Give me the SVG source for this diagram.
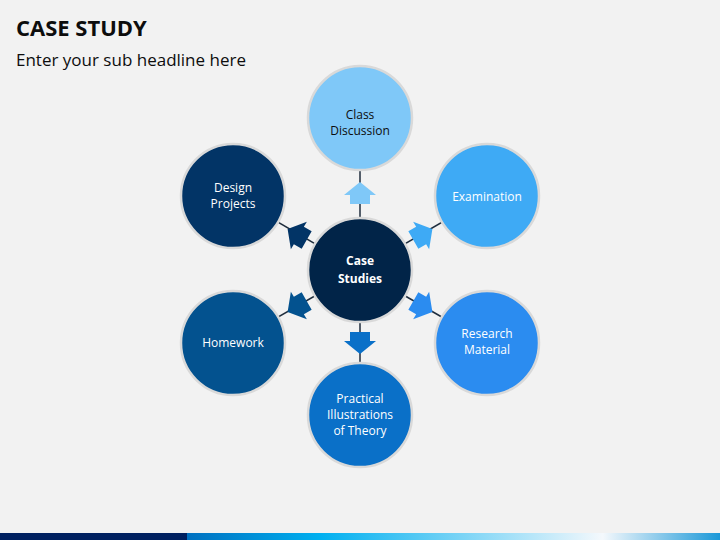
<svg xmlns="http://www.w3.org/2000/svg" width="720" height="540" viewBox="0 0 720 540">
<defs>
<linearGradient id="bar" x1="187" y1="0" x2="720" y2="0" gradientUnits="userSpaceOnUse">
<stop offset="0" stop-color="#0070c0"/><stop offset="0.25" stop-color="#00b0f0"/><stop offset="0.78" stop-color="#f4f8fc"/><stop offset="1" stop-color="#1a98d8"/>
</linearGradient>
<path id="arr" d="M0,-12 L16,1 L10,1 L10,10 L-10,10 L-10,1 L-16,1 Z"/>
</defs>
<style>
.c{stroke:#d9d9d9;stroke-width:2.5}
.t{font-family:"Open Sans","Liberation Sans",sans-serif;font-size:12px;fill:#fff;text-anchor:middle}
.d{fill:#0d0d0d}
.ln{stroke:#1f2d3d;stroke-width:1.5}
</style>
<rect width="720" height="540" fill="#f2f2f2"/>
<rect x="0" y="533" width="187" height="7" fill="#002060"/>
<rect x="187" y="533" width="533" height="7" fill="url(#bar)"/>
<text x="16" y="36" font-family="'Open Sans','Liberation Sans',sans-serif" font-size="22" font-weight="bold" fill="#0d0d0d">CASE STUDY</text>
<text x="16" y="66" font-family="'Open Sans','Liberation Sans',sans-serif" font-size="17" fill="#0d0d0d">Enter your sub headline here</text>
<g id="connectors">
<line class="ln" x1="360" y1="270" x2="360" y2="118"/>
<line class="ln" x1="360" y1="270" x2="487" y2="196"/>
<line class="ln" x1="360" y1="270" x2="487" y2="343"/>
<line class="ln" x1="360" y1="270" x2="360" y2="415"/>
<line class="ln" x1="360" y1="270" x2="233" y2="343"/>
<line class="ln" x1="360" y1="270" x2="233" y2="196"/>
<use href="#arr" fill="#7fc8f8" transform="translate(360,194)"/>
<use href="#arr" fill="#3eaaf5" transform="translate(422,235) rotate(60)"/>
<use href="#arr" fill="#2b8cf0" transform="translate(422,306) rotate(120)"/>
<use href="#arr" fill="#0a70c8" transform="translate(360,342) rotate(180)"/>
<use href="#arr" fill="#03528f" transform="translate(298,306) rotate(240)"/>
<use href="#arr" fill="#023466" transform="translate(298,235) rotate(300)"/>
</g>
<g id="center"><circle class="c" cx="360" cy="270" r="52" fill="#012448"/>
<text class="t" x="360" y="265" font-size="14" font-weight="bold">Case</text><text class="t" x="360" y="283" font-size="14" font-weight="bold">Studies</text></g>
<g id="n1"><circle class="c" cx="360" cy="118" r="52" fill="#7fc8f8"/>
<text class="t d" x="360" y="119">Class</text><text class="t d" x="360" y="135">Discussion</text></g>
<g id="n2"><circle class="c" cx="487" cy="196" r="52" fill="#3eaaf5"/>
<text class="t" x="487" y="201">Examination</text></g>
<g id="n3"><circle class="c" cx="487" cy="343" r="52" fill="#2b8cf0"/>
<text class="t" x="487" y="338">Research</text><text class="t" x="487" y="354">Material</text></g>
<g id="n4"><circle class="c" cx="360" cy="415" r="52" fill="#0a70c8"/>
<text class="t" x="360" y="403">Practical</text><text class="t" x="360" y="419">Illustrations</text><text class="t" x="360" y="435">of Theory</text></g>
<g id="n5"><circle class="c" cx="233" cy="343" r="52" fill="#03528f"/>
<text class="t" x="233" y="347">Homework</text></g>
<g id="n6"><circle class="c" cx="233" cy="196" r="52" fill="#023466"/>
<text class="t" x="233" y="192">Design</text><text class="t" x="233" y="208">Projects</text></g>
</svg>
